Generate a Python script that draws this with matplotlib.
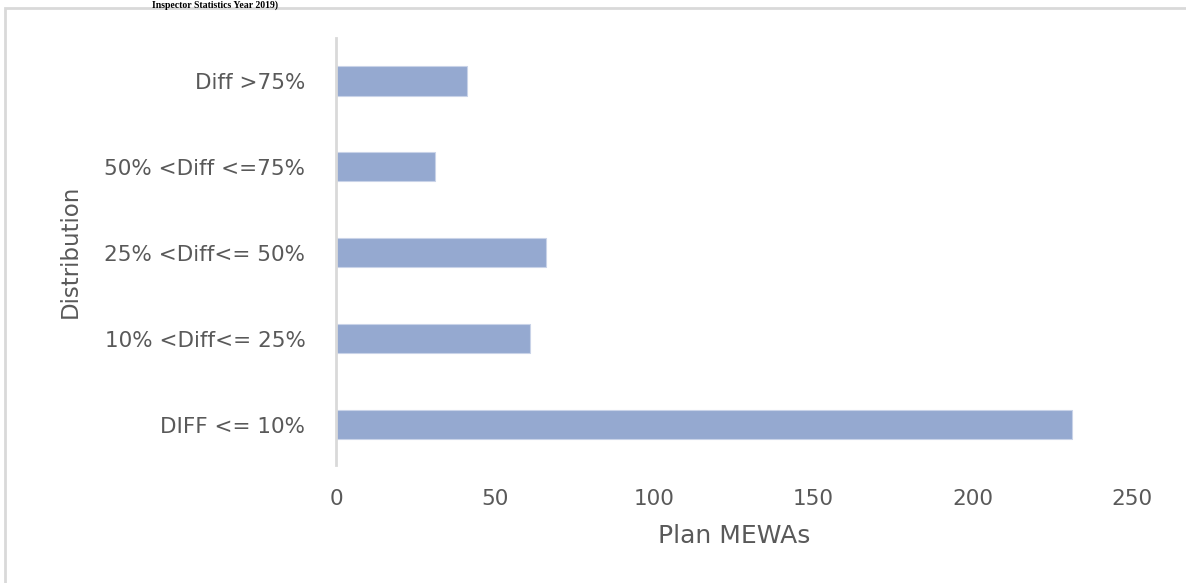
import matplotlib
matplotlib.use("Agg")
import matplotlib.pyplot as plt
from matplotlib.patches import Rectangle

# data
categories = ["DIFF <= 10%", "10% <Diff<= 25%", "25% <Diff<= 50%", "50% <Diff <=75%", "Diff >75%"]
plan_mewas = [231, 61, 66, 31, 41]
xticks = [0, 50, 100, 150, 200, 250]

bar_color = "#95A9D0"
text_color = "#595959"
line_color = "#D9D9D9"

plt.rcParams["font.family"] = ["DejaVu Sans"]

fig = plt.figure(figsize=(11.86, 5.83), dpi=100)
ax = fig.add_axes([336 / 1186, 1 - 465 / 583, (1132 - 336) / 1186, (465 - 38) / 583])

ax.barh(range(len(categories)), plan_mewas, height=0.34, color=bar_color,
        edgecolor="#c9d3e8", linewidth=0.8, zorder=2)

ax.set_xlim(0, 250)
ax.set_ylim(-0.47, 4.5)
ax.set_xticks(xticks)
ax.set_yticks(range(len(categories)))
ax.set_yticklabels(categories)
ax.tick_params(axis="both", length=0, colors=text_color, labelsize=15.5)
ax.tick_params(axis="x", pad=17)
ax.tick_params(axis="y", pad=22)

for side in ["top", "right", "bottom"]:
    ax.spines[side].set_visible(False)
ax.spines["left"].set_color(line_color)
ax.spines["left"].set_linewidth(2)

ax.set_xlabel("Plan MEWAs", fontsize=18, color=text_color, labelpad=11)
ax.set_ylabel("Distribution", fontsize=16.5, color=text_color, labelpad=16)

# outer chart frame (only left and top edges are inside the picture)
fig.patches.append(Rectangle((5 / 1186, -0.1), 1.2, 1.1 - 8 / 583,
                             transform=fig.transFigure, fill=False,
                             edgecolor=line_color, linewidth=2))

# caption from the page above the chart
fig.text(278 / 1186, 1.0, "Inspector Statistics Year 2019)", ha="right", va="top",
         family="Liberation Serif", fontweight="bold", fontsize=7, color="black")

fig.savefig("out.png", dpi=100, facecolor="white")
